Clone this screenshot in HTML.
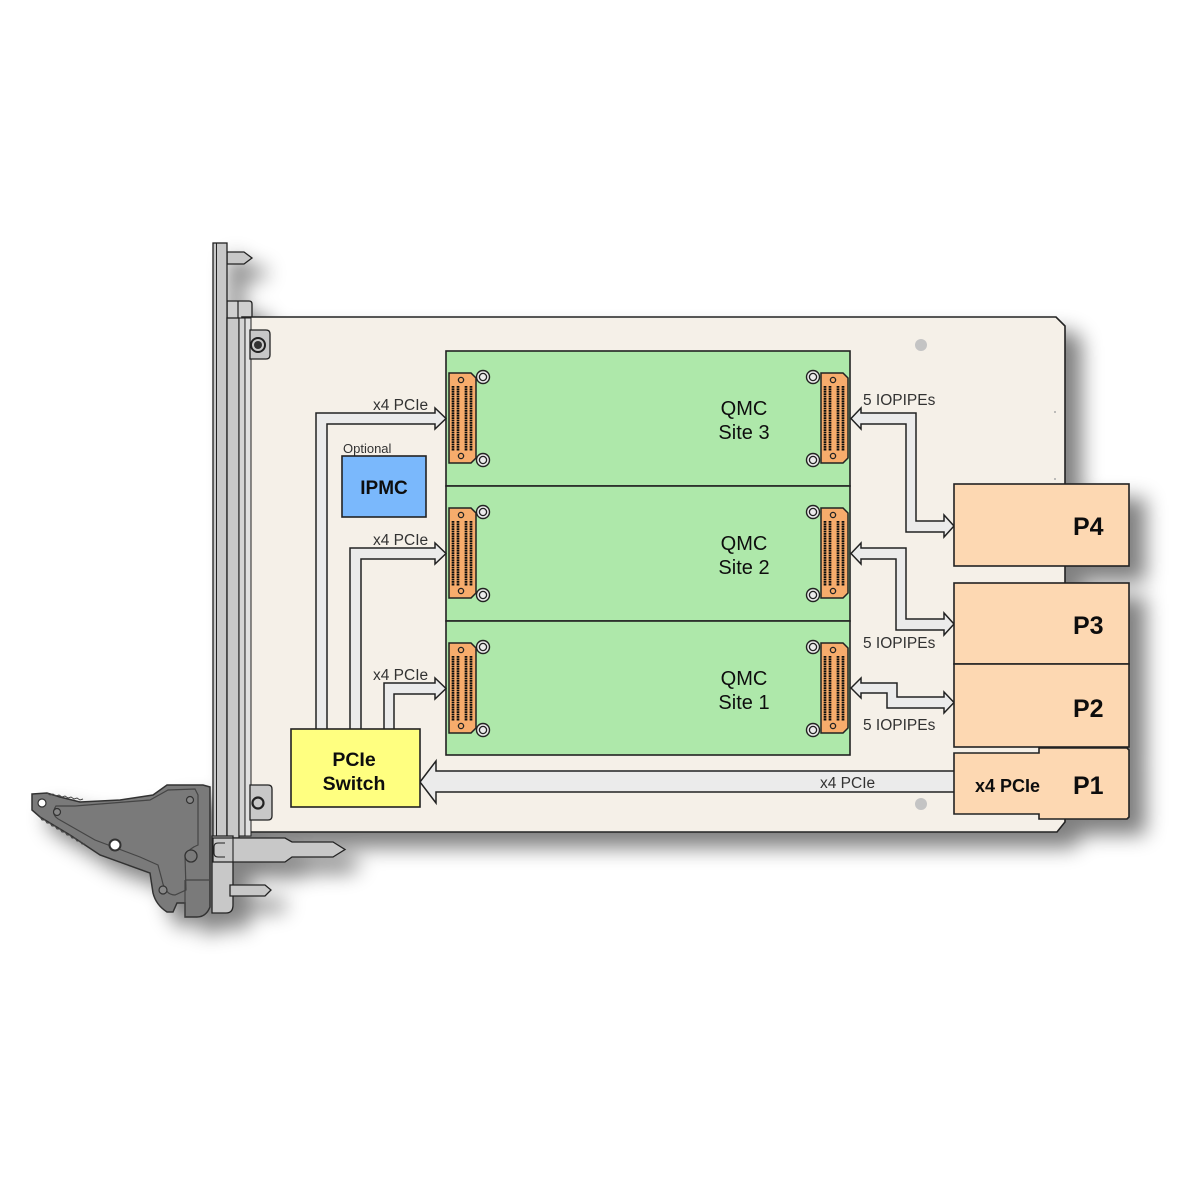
<!DOCTYPE html>
<html><head><meta charset="utf-8"><style>
html,body{margin:0;padding:0;background:#fff;}
svg{display:block;}
text{font-family:"Liberation Sans",Arial,sans-serif;}
</style></head><body>
<svg width="1200" height="1200" viewBox="0 0 1200 1200" xmlns="http://www.w3.org/2000/svg">
<defs>
<filter id="sh" x="-10%" y="-10%" width="130%" height="130%">
<feGaussianBlur in="SourceAlpha" stdDeviation="10"/>
<feOffset dx="16" dy="15" result="o"/>
<feComponentTransfer><feFuncA type="linear" slope="0.5"/></feComponentTransfer>
<feMerge><feMergeNode/><feMergeNode in="SourceGraphic"/></feMerge>
</filter>
<g id="conn">
<path d="M0,0 H22 L27,5 V85 L22,90 H0 Z" fill="#f7ac6c" stroke="#222" stroke-width="1.5"/>
<circle cx="12" cy="7" r="2.6" fill="none" stroke="#222" stroke-width="1.3"/>
<circle cx="12" cy="83" r="2.6" fill="none" stroke="#222" stroke-width="1.3"/>
<g stroke="#111" stroke-width="2.7" stroke-dasharray="1.8 0.6">
<line x1="4" y1="13" x2="4" y2="78"/>
<line x1="9" y1="13" x2="9" y2="78"/>
<line x1="17" y1="13" x2="17" y2="78"/>
<line x1="22" y1="13" x2="22" y2="78"/>
</g>
</g>
<g id="ring">
<circle r="6.5" fill="#ececec" stroke="#222" stroke-width="1.4"/>
<circle r="3.6" fill="none" stroke="#222" stroke-width="1.3"/>
</g>
</defs>
<rect width="1200" height="1200" fill="#fff"/>

<g filter="url(#sh)">
<!-- faceplate top parts -->
<path d="M227,252 H244 L252,258 L244,264 H227 Z" fill="#c8c8c8" stroke="#222" stroke-width="1.3"/>
<path d="M227,301 H249 Q252,301 252,304 V320 H227 Z" fill="#cfcfcf" stroke="#222" stroke-width="1.3"/>
<line x1="238" y1="301" x2="238" y2="318" stroke="#222" stroke-width="1.2"/>
<!-- board -->
<path d="M242,317 H1056 L1065,326 V822 L1057,832 H242 Z" fill="#f5f0e8" stroke="#222" stroke-width="1.6"/>
<!-- faceplate main -->
<rect x="213" y="243" width="14" height="595" fill="#c8c8c8" stroke="#222" stroke-width="1.3"/>
<line x1="216.5" y1="243" x2="216.5" y2="838" stroke="#222" stroke-width="1"/>
<rect x="227" y="318" width="12" height="520" fill="#c8c8c8" stroke="#222" stroke-width="1.3"/>
<rect x="239" y="318" width="6" height="518" fill="#d4d4d4" stroke="#222" stroke-width="1.1"/>
<rect x="245" y="318" width="6" height="518" fill="#e0e0e0" stroke="#222" stroke-width="1"/>
<!-- brackets -->
<path d="M250,330 H266 Q270,330 270,334 V355 Q270,359 266,359 H250 Z" fill="#c8c8c8" stroke="#222" stroke-width="1.3"/>
<circle cx="258" cy="345" r="7" fill="none" stroke="#222" stroke-width="2"/>
<circle cx="258" cy="345" r="4" fill="#333"/>
<path d="M250,785 H268 Q272,785 272,789 V816 Q272,820 268,820 H250 Z" fill="#c8c8c8" stroke="#222" stroke-width="1.3"/>
<circle cx="258" cy="803" r="5.5" fill="none" stroke="#222" stroke-width="2.2"/>
<!-- faceplate lower -->
<path d="M212,836 H233 V905 Q233,913 226,913 H212 Z" fill="#c8c8c8" stroke="#222" stroke-width="1.3"/>
<path d="M230,885 H265 L271,890 L265,896 H230 Z" fill="#c8c8c8" stroke="#222" stroke-width="1.3"/>
<path d="M213,838 H285 L292,842 H333 L345,849.5 L333,857 H292 L285,862 H213 Z" fill="#c8c8c8" stroke="#222" stroke-width="1.3"/>
<path d="M225,843 H218 Q214,843 214,847 V853 Q214,857 218,857 H225" fill="none" stroke="#222" stroke-width="1.1"/>
<line x1="233" y1="838" x2="233" y2="862" stroke="#222" stroke-width="1.1"/>
<!-- ejector -->
<path d="M32,794 L47,793 L60,797 L80,802 L120,800 L153,795 L167,785 L203,785 L210,787 L210,907 Q206,917 197,917 L185,917 L185,903 L177,903 L173,912 L167,912 Q156,905 153,893 L150,873 L100,855 L70,835 L40,817 L32,810 Z" fill="#7a7a7a" stroke="#333" stroke-width="1.5"/>
<path d="M47,793 l3,2 l3,-1 l3,2 l3,-1 l3,2 l3,-1 l3,2 l3,-1 l3,2 l3,-1 l3,2 l3,-1 M40,817 l2,3 l3,0 l2,3 l3,0 l2,3 l3,0 l2,3 l3,0 l2,3 l3,0 l2,3 l3,0 l2,3 l3,0 l2,3 l3,0 l2,3 l3,0" fill="none" stroke="#444" stroke-width="1"/>
<path d="M56,806 L75,806 L150,800 L168,790 L195,789 L198,795 L198,845 Q190,848 185,855 L186,890 L175,895 Q165,895 162,880 L158,865 L140,857 L95,840 L60,820 Q50,815 56,806 Z" fill="none" stroke="#444" stroke-width="1.2"/>
<path d="M185,880 H210 M185,880 V917" fill="none" stroke="#444" stroke-width="1.2"/>
<circle cx="42" cy="803" r="4" fill="#fff" stroke="#333" stroke-width="1.2"/>
<circle cx="57" cy="812" r="3.5" fill="#888" stroke="#333" stroke-width="1.2"/>
<circle cx="115" cy="845" r="5.5" fill="#fff" stroke="#333" stroke-width="2"/>
<circle cx="190" cy="800" r="3.5" fill="#888" stroke="#333" stroke-width="1.2"/>
<circle cx="191" cy="856" r="6" fill="#7a7a7a" stroke="#333" stroke-width="1.3"/>
<circle cx="163" cy="890" r="4" fill="#888" stroke="#333" stroke-width="1.2"/>

<!-- board dots -->
<circle cx="921" cy="345" r="6" fill="#c4c4c4"/>
<circle cx="921" cy="804" r="6" fill="#c4c4c4"/>
<circle cx="1055" cy="412" r="1" fill="#aaa"/>
<circle cx="1055" cy="479" r="1" fill="#aaa"/>

<!-- QMC sites -->
<rect x="446" y="351" width="404" height="135" fill="#aee8aa" stroke="#222" stroke-width="1.6"/>
<rect x="446" y="486" width="404" height="135" fill="#aee8aa" stroke="#222" stroke-width="1.6"/>
<rect x="446" y="621" width="404" height="134" fill="#aee8aa" stroke="#222" stroke-width="1.6"/>

<use href="#conn" x="449" y="373"/>
<use href="#conn" x="449" y="508"/>
<use href="#conn" x="449" y="643"/>
<use href="#conn" x="821" y="373"/>
<use href="#conn" x="821" y="508"/>
<use href="#conn" x="821" y="643"/>
<use href="#ring" x="483" y="377"/><use href="#ring" x="483" y="460"/>
<use href="#ring" x="483" y="512"/><use href="#ring" x="483" y="595"/>
<use href="#ring" x="483" y="647"/><use href="#ring" x="483" y="730"/>
<use href="#ring" x="813" y="377"/><use href="#ring" x="813" y="460"/>
<use href="#ring" x="813" y="512"/><use href="#ring" x="813" y="595"/>
<use href="#ring" x="813" y="647"/><use href="#ring" x="813" y="730"/>

<g font-size="20" fill="#111" text-anchor="middle">
<text x="744" y="415">QMC</text><text x="744" y="439">Site 3</text>
<text x="744" y="550">QMC</text><text x="744" y="574">Site 2</text>
<text x="744" y="685">QMC</text><text x="744" y="709">Site 1</text>
</g>

<!-- left pipes -->
<g fill="#ebebeb" stroke="#222" stroke-width="1.5" stroke-linejoin="miter">
<path d="M316,740 V413 H435 V408 L446,418.5 L435,429 V424 H327 V740 Z"/>
<path d="M350,740 V548 H435 V543 L446,553.5 L435,564 V559 H361 V740 Z"/>
<path d="M384,740 V683 H435 V678 L446,688.5 L435,699 V694 H394 V740 Z"/>
<!-- right pipes -->
<path d="M851,418.5 L861,408 V413 H916 V521 H944 V515 L954,526 L944,537 V532 H906 V424 H861 V429 Z"/>
<path d="M851,553.5 L861,543 V548 H906 V619 H944 V613 L954,624 L944,635 V630 H896 V559 H861 V564 Z"/>
<path d="M851,688 L861,678 V683 H897 V697 H944 V692 L954,702.5 L944,713 V708 H887 V693 H861 V698 Z"/>
<!-- big pipe -->
<path d="M420,782 L436,761 V771 H960 V792 H436 V803 Z"/>
</g>

<!-- labels -->
<g font-size="15.5" fill="#333">
<text x="373" y="410">x4 PCIe</text>
<text x="373" y="545">x4 PCIe</text>
<text x="373" y="680">x4 PCIe</text>
<text x="863" y="405">5 IOPIPEs</text>
<text x="863" y="648">5 IOPIPEs</text>
<text x="863" y="730">5 IOPIPEs</text>
<text x="820" y="788">x4 PCIe</text>
</g>

<!-- PCIe switch -->
<rect x="291" y="729" width="129" height="78" fill="#ffff80" stroke="#222" stroke-width="1.6"/>
<g font-size="19.5" font-weight="bold" fill="#111" text-anchor="middle">
<text x="354" y="766">PCIe</text>
<text x="354" y="790">Switch</text>
</g>

<!-- IPMC -->
<text x="343" y="453" font-size="13" fill="#333">Optional</text>
<rect x="342" y="456" width="84" height="61" fill="#7ab8fc" stroke="#222" stroke-width="1.6"/>
<text x="384" y="494" font-size="19" font-weight="bold" fill="#111" text-anchor="middle">IPMC</text>

<!-- P connectors -->
<rect x="954" y="484" width="175" height="82" fill="#fdd8b2" stroke="#222" stroke-width="1.6"/>
<rect x="954" y="583" width="175" height="81" fill="#fdd8b2" stroke="#222" stroke-width="1.6"/>
<rect x="954" y="664" width="175" height="83" fill="#fdd8b2" stroke="#222" stroke-width="1.6"/>
<path d="M954,753 H1039 V748 H1127 L1129,750 V817 L1127,819 H1039 V814 H954 Z" fill="#fdd8b2" stroke="#222" stroke-width="1.6"/>
<g font-size="25" font-weight="bold" fill="#111">
<text x="1073" y="535">P4</text>
<text x="1073" y="634">P3</text>
<text x="1073" y="717">P2</text>
<text x="1073" y="794">P1</text>
</g>
<text x="975" y="792" font-size="18" font-weight="bold" fill="#111">x4 PCIe</text>
</g>
</svg>
</body></html>
